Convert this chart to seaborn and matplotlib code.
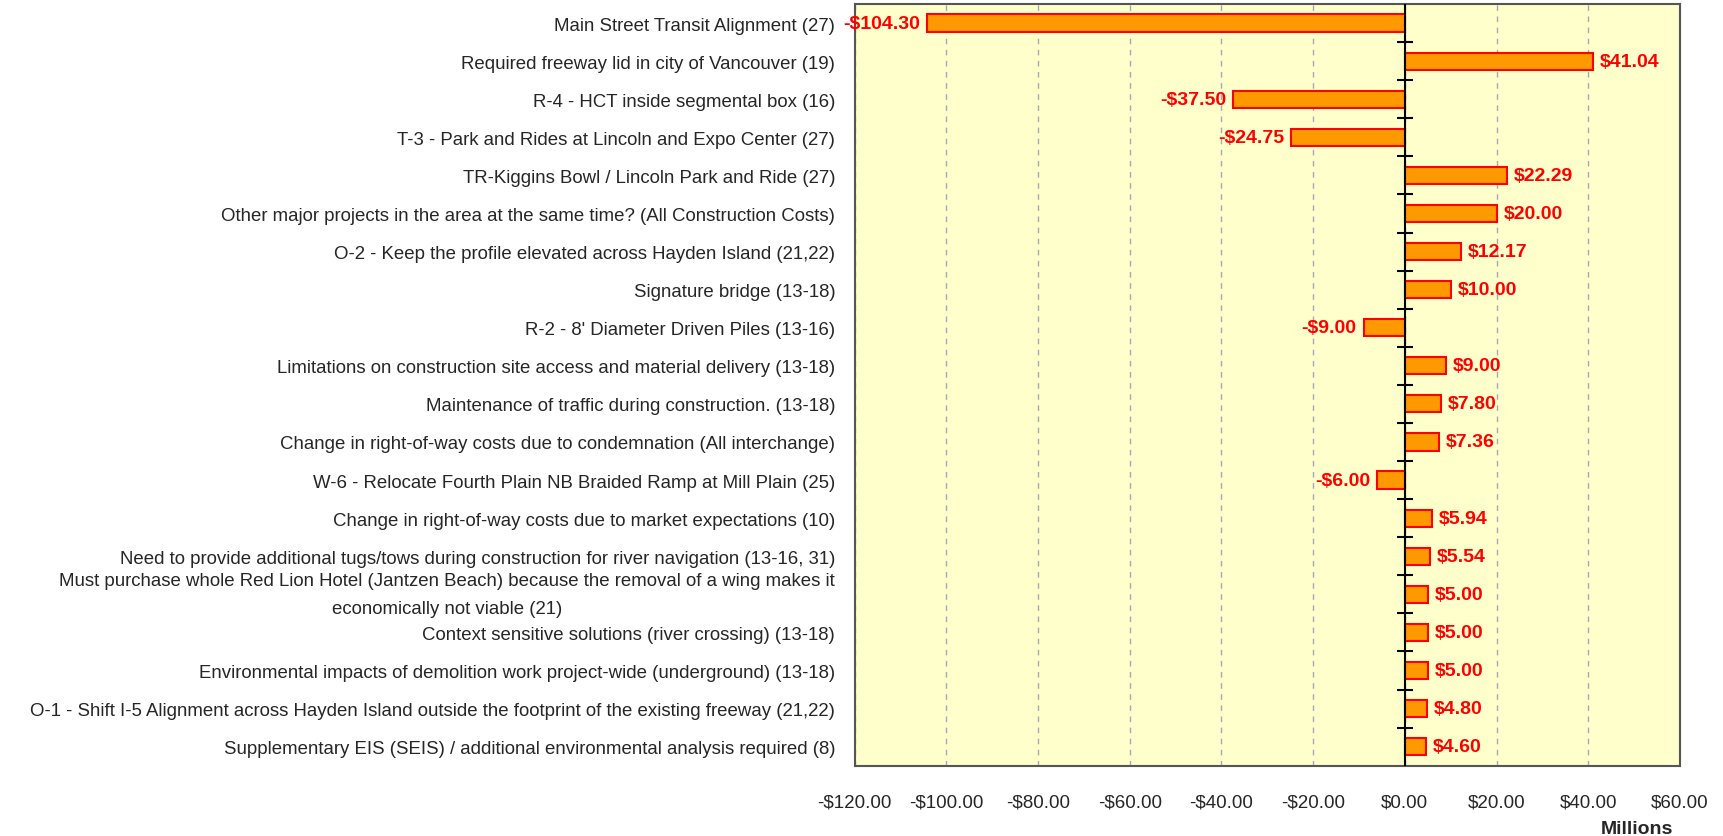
import numpy as np
import pandas as pd
import matplotlib
matplotlib.use("Agg")
import matplotlib.pyplot as plt
import seaborn as sns

risks = [
    "Main Street Transit Alignment (27)",
    "Required freeway lid in city of Vancouver (19)",
    "R-4 - HCT inside segmental box (16)",
    "T-3 - Park and Rides at Lincoln and Expo Center (27)",
    "TR-Kiggins Bowl / Lincoln Park and Ride (27)",
    "Other major projects in the area at the same time? (All Construction Costs)",
    "O-2 - Keep the profile elevated across Hayden Island (21,22)",
    "Signature bridge (13-18)",
    "R-2 - 8' Diameter Driven Piles (13-16)",
    "Limitations on construction site access and material delivery (13-18)",
    "Maintenance of traffic during construction. (13-18)",
    "Change in right-of-way costs due to condemnation (All interchange)",
    "W-6 - Relocate Fourth Plain NB Braided Ramp at Mill Plain (25)",
    "Change in right-of-way costs due to market expectations (10)",
    "Need to provide additional tugs/tows during construction for river navigation (13-16, 31)",
    "Must purchase whole Red Lion Hotel (Jantzen Beach) because the removal of a wing makes it\neconomically not viable (21)",
    "Context sensitive solutions (river crossing) (13-18)",
    "Environmental impacts of demolition work project-wide (underground) (13-18)",
    "O-1 - Shift I-5 Alignment across Hayden Island outside the footprint of the existing freeway (21,22)",
    "Supplementary EIS (SEIS) / additional environmental analysis required (8)",
]
millions = [-104.30, 41.04, -37.50, -24.75, 22.29, 20.00, 12.17, 10.00, -9.00, 9.00,
            7.80, 7.36, -6.00, 5.94, 5.54, 5.00, 5.00, 5.00, 4.80, 4.60]
x_ticks = [-120, -100, -80, -60, -40, -20, 0, 20, 40, 60]


def money(v):
    return f"-${abs(v):.2f}" if v < 0 else f"${v:.2f}"


df = pd.DataFrame({"risk": risks, "value": millions})

sns.set_style("white")
plt.rcParams["font.family"] = ["Liberation Sans", "DejaVu Sans"]

fig = plt.figure(figsize=(17.23, 8.37), dpi=100)
ax = fig.add_axes([0.496, 0.084, 0.479, 0.910])
ax.set_facecolor("#FFFFCC")

sns.barplot(data=df, x="value", y="risk", orient="h", order=risks,
            color="#FF9900", saturation=1, width=0.45,
            edgecolor="#FF0000", linewidth=1.5, ax=ax, zorder=3)

ax.bar_label(ax.containers[0], labels=[money(v) for v in millions], padding=5,
             color="#FF0000", fontweight="bold", fontsize=14)

ax.set_xlim(-120, 60)
ax.set_ylim(len(risks) - 0.5, -0.5)
ax.set_xticks(x_ticks)
ax.set_xticklabels([money(v) for v in x_ticks], fontsize=13.5)
ax.tick_params(axis="x", length=0, pad=20)
ax.tick_params(axis="y", length=0, pad=14, labelsize=13.4)
for lab in ax.get_yticklabels():
    if "\n" in lab.get_text():
        lab.set_multialignment("center")
        lab.set_linespacing(1.85)
        lab.set_verticalalignment("center")

ax.grid(axis="x", color="#A8A8B4", linestyle=(0, (4, 4)), linewidth=1, zorder=0)
ax.axvline(0, color="black", linewidth=1.5, zorder=4)
# small ticks on the zero line between categories
bounds = np.arange(len(risks) - 1) + 0.5
ax.plot(np.zeros_like(bounds), bounds, linestyle="none", marker="_",
        markersize=11, markeredgewidth=1.5, color="black", zorder=5)

for s in ax.spines.values():
    s.set_color("#555555")
    s.set_linewidth(1.5)

ax.set_ylabel("")
ax.set_xlabel("")
fig.text(1673 / 1723, 1 - 830 / 837, "Millions", fontweight="bold", fontsize=14,
         ha="right", va="center")

fig.savefig("out.png", dpi=100, facecolor="white")
